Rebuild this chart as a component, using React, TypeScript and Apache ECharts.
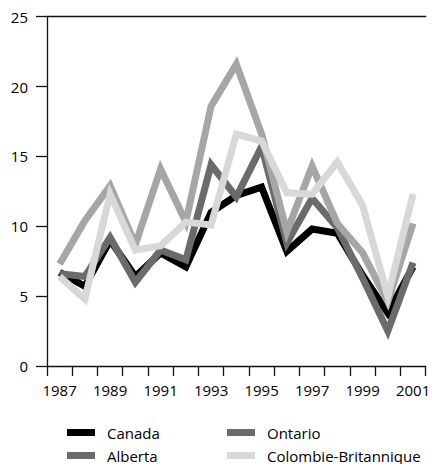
import React, { useEffect, useRef } from "react";
import * as echarts from "echarts";

const years = ["1987","1988","1989","1990","1991","1992","1993","1994","1995","1996","1997","1998","1999","2000","2001"];
const canada = [6.7, 5.7, 9.0, 6.4, 8.1, 7.1, 11.0, 12.2, 12.8, 8.2, 9.8, 9.5, 6.5, 3.8, 7.1];
const ontario = [6.6, 6.4, 9.2, 6.0, 8.3, 7.6, 14.4, 12.1, 15.7, 8.8, 12.0, 9.9, 6.3, 2.5, 7.4];
const alberta = [7.3, 10.4, 12.9, 8.7, 14.1, 10.3, 18.6, 21.6, 16.6, 9.6, 14.3, 10.2, 8.1, 4.6, 10.2];
const cb = [6.4, 4.8, 12.3, 8.3, 8.6, 10.3, 10.1, 16.6, 16.1, 12.4, 12.3, 14.6, 11.5, 5.0, 12.3];

const FONT = "Open Sans";
const C_CANADA = "#000000";
const C_ONTARIO = "#6b6b6b";
const C_ALBERTA = "#a6a6a6";
const C_CB = "#d8d8d8";

export default function App() {
  const ref = useRef<HTMLDivElement>(null);
  useEffect(() => {
    if (!ref.current) return;
    const chart = echarts.init(ref.current, null, { renderer: "svg" });
    const mk = (name: string, data: number[], color: string) => ({
      name,
      type: "line",
      data,
      symbol: "none",
      lineStyle: { color, width: 7, join: "miter" },
      itemStyle: { color },
      z: 2,
    });
    const legendText = {
      fontFamily: FONT,
      fontSize: 15,
      color: "#000",
      lineHeight: 15,
      padding: [0, 0, 0, 7],
    };
    const legendBase = {
      orient: "vertical",
      top: 425,
      padding: 0,
      itemWidth: 28,
      itemHeight: 7,
      itemGap: 8,
      icon: "rect",
      textStyle: legendText,
    };
    chart.setOption({
      animation: false,
      textStyle: { fontFamily: FONT },
      grid: { left: 47, right: 1, top: 16.7, bottom: 98, containLabel: false },
      legend: [
        {
          ...legendBase,
          left: 67,
          data: [
            { name: "Canada", itemStyle: { color: C_CANADA } },
            { name: "Alberta", itemStyle: { color: C_ONTARIO } },
          ],
        },
        {
          ...legendBase,
          left: 227,
          data: [
            { name: "Ontario", itemStyle: { color: C_ONTARIO } },
            { name: "Colombie-Britannique", itemStyle: { color: C_CB } },
          ],
        },
      ],
      xAxis: [
        {
          type: "category",
          data: years,
          boundaryGap: true,
          axisLine: { show: true, lineStyle: { color: "#111", width: 1.3 } },
          axisTick: { show: true, interval: 0, length: 10, lineStyle: { color: "#111", width: 1.3 } },
          axisLabel: { interval: 1, margin: 16, fontSize: 15, fontFamily: FONT, color: "#000" },
          splitLine: { show: false },
        },
        {
          type: "category",
          data: years,
          position: "top",
          boundaryGap: true,
          axisLine: { show: true, lineStyle: { color: "#111", width: 1.3 } },
          axisTick: { show: false },
          axisLabel: { show: false },
          splitLine: { show: false },
        },
      ],
      yAxis: {
        type: "value",
        min: 0,
        max: 25,
        interval: 5,
        axisLine: { show: true, lineStyle: { color: "#111", width: 1.3 } },
        axisTick: { show: true, length: 11, lineStyle: { color: "#111", width: 1.3 } },
        axisLabel: { margin: 19, fontSize: 15, fontFamily: FONT, color: "#000" },
        splitLine: { show: false },
      },
      series: [
        mk("Canada", canada, C_CANADA),
        mk("Ontario", ontario, C_ONTARIO),
        mk("Alberta", alberta, C_ALBERTA),
        mk("Colombie-Britannique", cb, C_CB),
      ],
    });
    return () => chart.dispose();
  }, []);
  return <div ref={ref} style={{ width: 433, height: 464, position: "absolute", left: 0, top: 0 }} />;
}
